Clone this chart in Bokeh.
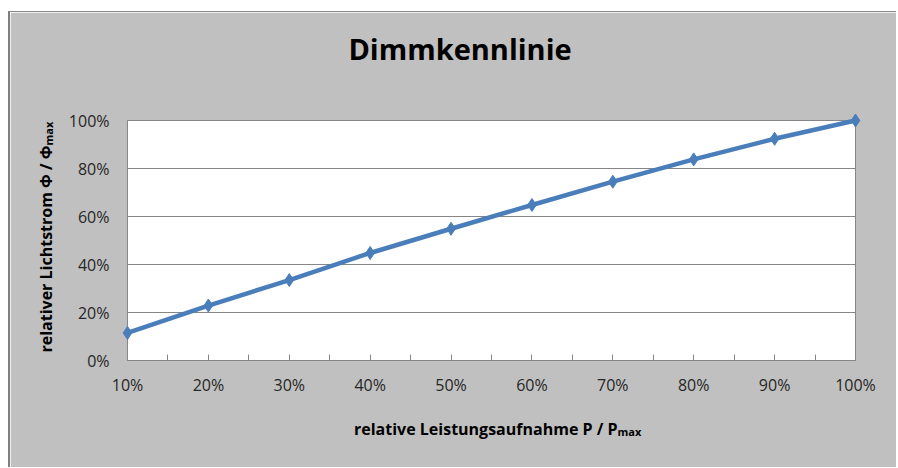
from bokeh.plotting import figure
from bokeh.models import Range1d, FixedTicker, Label
from bokeh.embed import file_html
from bokeh.resources import INLINE

# ---- data ----
leistung = [10, 20, 30, 40, 50, 60, 70, 80, 90, 100]          # relative power, %
lichtstrom = [11.5, 22.9, 33.5, 44.8, 54.9, 64.8, 74.5, 83.8, 92.4, 100.0]  # relative flux, %
x_tick_labels = ["10%", "20%", "30%", "40%", "50%", "60%", "70%", "80%", "90%", "100%"]
y_ticks = [0, 20, 40, 60, 80, 100]
y_tick_labels = ["0%", "20%", "40%", "60%", "80%", "100%"]
title_text = "Dimmkennlinie"
x_label_main = "relative Leistungsaufnahme P / P"
y_label_main = "relativer Lichtstrom Φ / Φ"
sub_text = "max"

FONT = "Open Sans"
GRAY_BG = "#c0c0c0"
AXIS_GRAY = "#868686"
BLUE = "#4a7ebb"

W, H = 888, 456
p = figure(width=W, height=H, output_backend="svg", toolbar_location=None,
           x_range=Range1d(10, 100), y_range=Range1d(0, 100),
           min_border_left=117, min_border_right=43, min_border_top=108, min_border_bottom=108,
           background_fill_color="white", border_fill_color=GRAY_BG,
           outline_line_color=AXIS_GRAY, outline_line_width=1,
           styles={"margin-top": "11px", "margin-left": "8px",
                   "border-left": "2px solid #7f7f7f", "border-top": "1px solid #8a8a8a"})

# line + markers
p.line(leistung, lichtstrom, line_color=BLUE, line_width=4.5, level="overlay")
p.scatter(leistung, lichtstrom, marker="diamond", size=13, fill_color=BLUE,
          line_color=BLUE, level="overlay")

# x axis
xa = p.xaxis[0]
xa.ticker = FixedTicker(ticks=leistung, minor_ticks=[l + 5 for l in leistung[:-1]])
xa.major_label_overrides = {t: lab for t, lab in zip(leistung, x_tick_labels)}
xa.axis_line_color = AXIS_GRAY
xa.major_tick_line_color = AXIS_GRAY
xa.minor_tick_line_color = AXIS_GRAY
xa.major_tick_in = 6
xa.major_tick_out = 0
xa.minor_tick_in = 6
xa.minor_tick_out = 0
xa.major_label_standoff = 13
xa.major_label_text_font = FONT
xa.major_label_text_font_size = "16px"
xa.major_label_text_color = "#262626"

# y axis
ya = p.yaxis[0]
ya.ticker = FixedTicker(ticks=y_ticks)
ya.major_label_overrides = {t: lab for t, lab in zip(y_ticks, y_tick_labels)}
ya.axis_line_color = AXIS_GRAY
ya.major_tick_line_color = None
ya.minor_tick_line_color = None
ya.major_tick_in = 0
ya.major_tick_out = 0
ya.major_label_standoff = 18
ya.major_label_text_font = FONT
ya.major_label_text_font_size = "16px"
ya.major_label_text_color = "#262626"

# grid
p.xgrid.grid_line_color = None
p.ygrid.ticker = FixedTicker(ticks=y_ticks)
p.ygrid.grid_line_color = AXIS_GRAY
p.ygrid.grid_line_width = 1

# transparent overlay figure for titles (pixel coordinates of the page)
q = figure(width=898, height=468, output_backend="svg", toolbar_location=None,
           title=None,
           x_range=Range1d(0, 898), y_range=Range1d(468, 0),
           x_axis_type=None, y_axis_type=None, min_border=0,
           background_fill_color=None, border_fill_color=None, outline_line_color=None,
           styles={"position": "absolute", "top": "-11px", "left": "0px",
                   "pointer-events": "none"})
q.grid.visible = False

def lab(x, y, text, size, align, angle=0.0):
    return Label(x=x, y=y, text=text,
                 text_font=FONT, text_font_size=size, text_font_style="bold",
                 text_color="black", text_align=align, text_baseline="alphabetic",
                 angle=angle)

# title
q.add_layout(lab(459.5, 59, title_text, "29px", "center"))
# x axis label with subscript
q.add_layout(lab(617, 439.5, x_label_main, "16px", "right"))
q.add_layout(lab(617, 442, sub_text, "11px", "left"))
# y axis label with subscript (rotated)
q.add_layout(lab(45.5, 156, y_label_main, "16px", "right", 1.5708))
q.add_layout(lab(48, 156, sub_text, "11px", "left", 1.5708))

open("out.html", "w").write(file_html([p, q], INLINE))
